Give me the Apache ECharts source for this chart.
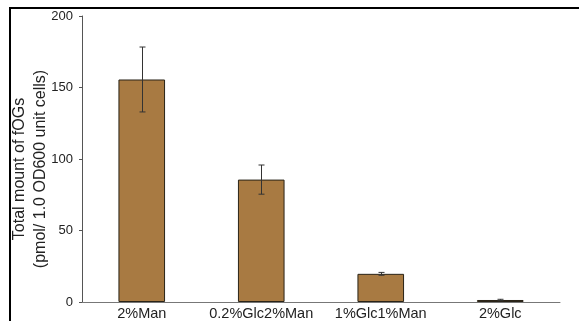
<!DOCTYPE html>
<html><head><meta charset="utf-8">
<script src="https://cdn.jsdelivr.net/npm/echarts@6/dist/echarts.min.js"></script>
<style>html,body{margin:0;padding:0;background:#fff}#c{width:579px;height:321px}</style>
</head><body><div id="c"></div>
<script>
var categories = ['2%Man', '0.2%Glc2%Man', '1%Glc1%Man', '2%Glc'];
var values = [155.6, 85.6, 19.7, 1.4];
var errors = [22.7, 10.2, 1.0, 0.5];
var yTicks = [0, 50, 100, 150, 200];
var yName = ['Total mount of fOGs', '(pmol/ 1.0 OD600 unit cells)'];

var chart = echarts.init(document.getElementById('c'));
var font = 'Liberation Sans, Arial, sans-serif';
chart.setOption({
  animation: false,
  grid: {left: 82, right: 19, top: 16, bottom: 18},
  xAxis: {
    type: 'category', data: categories,
    axisLine: {lineStyle: {color: '#777', width: 1}},
    axisTick: {show: false},
    axisLabel: {color: '#222', fontSize: 14.5, fontFamily: font, margin: 4, interval: 0}
  },
  yAxis: {
    type: 'value', min: yTicks[0], max: yTicks[yTicks.length - 1], interval: 50,
    axisLine: {show: true, lineStyle: {color: '#555', width: 1}},
    axisTick: {show: true, length: 3, lineStyle: {color: '#555'}},
    splitLine: {show: false},
    axisLabel: {color: '#222', fontSize: 13, fontFamily: font, margin: 9}
  },
  series: [{
    type: 'bar', data: values, barWidth: '39%',
    itemStyle: {color: '#A87A42', borderColor: '#2a2418', borderWidth: 1}
  }, {
    type: 'custom',
    data: categories.map(function (c, i) { return [i, values[i] - errors[i], values[i] + errors[i]]; }),
    renderItem: function (params, api) {
      var lo = api.coord([api.value(0), api.value(1)]);
      var hi = api.coord([api.value(0), api.value(2)]);
      var x = Math.round(lo[0]) + 0.5, w = 3;
      var st = {stroke: '#333', lineWidth: 1};
      return {type: 'group', children: [
        {type: 'line', shape: {x1: x, y1: hi[1], x2: x, y2: lo[1]}, style: st},
        {type: 'line', shape: {x1: x - w, y1: hi[1], x2: x + w, y2: hi[1]}, style: st},
        {type: 'line', shape: {x1: x - w, y1: lo[1], x2: x + w, y2: lo[1]}, style: st}
      ]};
    },
    z: 5
  }],
  graphic: [
    {type: 'line', shape: {x1: 10, y1: 8, x2: 579, y2: 8}, style: {stroke: '#000', lineWidth: 2}},
    {type: 'line', shape: {x1: 10, y1: 7, x2: 10, y2: 321}, style: {stroke: '#000', lineWidth: 2}},
    {type: 'text', x: 30, y: 169, rotation: Math.PI / 2,
     style: {text: yName.join('\n'), fill: '#222', font: '16px ' + font,
             align: 'center', verticalAlign: 'middle', lineHeight: 21}}
  ]
});
</script></body></html>
